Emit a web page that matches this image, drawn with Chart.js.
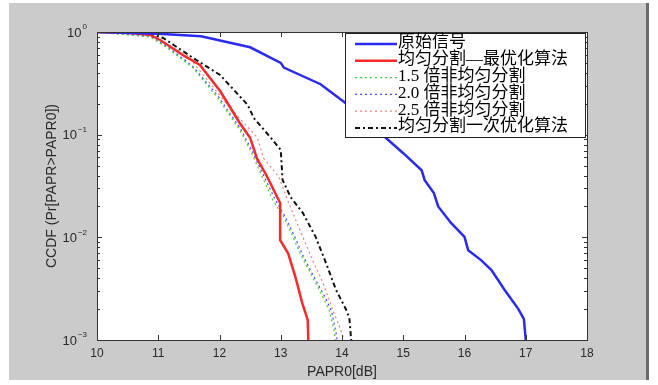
<!DOCTYPE html>
<html>
<head>
<meta charset="utf-8">
<script src="https://cdn.jsdelivr.net/npm/chart.js@4/dist/chart.umd.min.js"></script>
<style>
  html, body { margin: 0; padding: 0; background: #fff; }
  #frame {
    position: absolute; left: 9px; top: 3px; width: 637px; height: 377px;
    background: #cbcbcb; border-right: 3px solid #6a6a6a;
  }
  #plot { position: absolute; left: 0; top: 0; }
</style>
</head>
<body>
<div id="frame"></div>
<canvas id="plot" width="658" height="385"></canvas>
<script>
// tick values
const xTicks = [10, 11, 12, 13, 14, 15, 16, 17, 18];
const yDecades = [0.001, 0.01, 0.1, 1];

// series labels (legend order)
const labels = ['原始信号', '均匀分割—最优化算法', '1.5 倍非均匀分割', '2.0 倍非均匀分割', '2.5 倍非均匀分割', '均匀分割一次优化算法'];

// original signal
const origX = [10, 11, 11.7, 12.5, 13.0, 13.05, 13.65, 14.1, 14.7, 15.0, 15.3, 15.35, 15.5, 15.57, 15.78, 16.0, 16.06, 16.27, 16.44, 16.65, 16.88, 16.97, 17.0];
const origY = [1, 0.96, 0.91, 0.71, 0.50, 0.45, 0.31, 0.195, 0.095, 0.066, 0.045, 0.036, 0.027, 0.020, 0.0138, 0.0101, 0.0075, 0.0060, 0.0048, 0.0031, 0.0020, 0.0016, 0.001];

// uniform split, optimal
const optX = [10, 10.54, 10.87, 11.03, 11.4, 11.68, 12.01, 12.33, 12.5, 12.61, 12.78, 12.99, 12.99, 13.12, 13.24, 13.35, 13.44, 13.45];
const optY = [1, 0.98, 0.935, 0.836, 0.597, 0.477, 0.266, 0.130, 0.093, 0.059, 0.0387, 0.0216, 0.0094, 0.0070, 0.0041, 0.0023, 0.00157, 0.001];

// 1.5x non-uniform
const nu15X = [10, 10.87, 11.15, 11.57, 11.97, 12.34, 12.51, 12.7, 12.87, 13.05, 13.2, 13.33, 13.46, 13.57, 13.69, 13.79, 13.87, 13.89];
const nu15Y = [1, 0.894, 0.699, 0.446, 0.228, 0.109, 0.069, 0.0387, 0.0231, 0.0158, 0.0101, 0.0067, 0.0048, 0.0036, 0.0026, 0.00196, 0.00125, 0.001];

// 2.0x non-uniform
const nu20X = [10, 10.87, 11.15, 11.57, 11.97, 12.34, 12.52, 12.72, 12.9, 13.08, 13.24, 13.37, 13.5, 13.62, 13.74, 13.83, 13.9, 13.92];
const nu20Y = [1, 0.91, 0.72, 0.46, 0.24, 0.115, 0.072, 0.040, 0.024, 0.0155, 0.0098, 0.0065, 0.0046, 0.0034, 0.0025, 0.0019, 0.0012, 0.001];

// 2.5x non-uniform
const nu25X = [10, 10.87, 11.47, 12.13, 12.62, 12.72, 12.97, 13.13, 13.36, 13.52, 13.69, 13.85, 13.98, 14.03];
const nu25Y = [1, 0.935, 0.597, 0.195, 0.093, 0.059, 0.0387, 0.0216, 0.0101, 0.0060, 0.0036, 0.00196, 0.00125, 0.001];

// uniform split, single optimisation
const onceX = [10, 10.87, 11.08, 11.57, 12.01, 12.46, 12.56, 12.84, 13.0, 13.03, 13.16, 13.36, 13.57, 13.74, 13.9, 14.07, 14.12, 14.15];
const onceY = [1, 0.957, 0.875, 0.558, 0.381, 0.195, 0.145, 0.093, 0.071, 0.0362, 0.0247, 0.0173, 0.0101, 0.0056, 0.0031, 0.00196, 0.00164, 0.001];

function pts(xs, ys) {
  return xs.map((x, i) => ({ x: x, y: ys[i] }));
}

const axisFont = "'Liberation Sans', Arial, sans-serif";

// white plot area, box with inward ticks, y labels, legend
const boxPlugin = {
  id: 'boxPlugin',
  beforeDatasetsDraw(chart) {
    const { ctx, chartArea: a } = chart;
    ctx.save();
    ctx.fillStyle = '#fff';
    ctx.fillRect(a.left, a.top, a.right - a.left, a.bottom - a.top);
    ctx.restore();
  },
  afterDatasetsDraw(chart) {
    const { ctx, chartArea: a } = chart;
    const xs = chart.scales.x, ys = chart.scales.y;
    ctx.save();
    ctx.strokeStyle = '#333';
    ctx.lineWidth = 1;
    ctx.beginPath();
    xTicks.forEach(v => {
      const px = Math.round(xs.getPixelForValue(v)) + 0.5;
      ctx.moveTo(px, a.bottom); ctx.lineTo(px, a.bottom - 5);
      ctx.moveTo(px, a.top); ctx.lineTo(px, a.top + 5);
    });
    yDecades.forEach((d, i) => {
      const py = Math.round(ys.getPixelForValue(d)) + 0.5;
      ctx.moveTo(a.left, py); ctx.lineTo(a.left + 5, py);
      ctx.moveTo(a.right, py); ctx.lineTo(a.right - 5, py);
      if (i < yDecades.length - 1) {
        for (let m = 2; m < 10; m++) {
          const my = Math.round(ys.getPixelForValue(d * m)) + 0.5;
          ctx.moveTo(a.left, my); ctx.lineTo(a.left + 3, my);
          ctx.moveTo(a.right, my); ctx.lineTo(a.right - 3, my);
        }
      }
    });
    ctx.stroke();
    ctx.strokeRect(Math.round(a.left) + 0.5, Math.round(a.top) + 0.5, Math.round(a.right - a.left), Math.round(a.bottom - a.top));

    // y tick labels as 10 with superscript exponent
    ctx.fillStyle = '#2a2a2a';
    ctx.textBaseline = 'middle';
    yDecades.forEach(d => {
      const py = ys.getPixelForValue(d);
      const exp = String(Math.round(Math.log10(d))).replace('-', '\u2212');
      ctx.font = '8px ' + axisFont;
      const ew = ctx.measureText(exp).width;
      ctx.textAlign = 'left';
      ctx.fillText(exp, a.left - 11 - ew + 1, py - 5);
      ctx.font = '13px ' + axisFont;
      ctx.textAlign = 'right';
      ctx.fillText('10', a.left - 11 - ew, py + 1);
    });

    // legend box in the upper right corner
    const lx = 345, ly = a.top + 1, lw = a.right - 2 - lx, lh = 104;
    ctx.fillStyle = '#fff';
    ctx.fillRect(lx, ly, lw, lh);
    ctx.strokeStyle = '#222';
    ctx.lineWidth = 1;
    ctx.strokeRect(lx + 0.5, ly + 0.5, lw, lh);
    ctx.font = "17px 'Liberation Serif', 'Noto Sans CJK SC', serif";
    ctx.textAlign = 'left';
    ctx.textBaseline = 'middle';
    chart.data.datasets.forEach((ds, i) => {
      const cy = ly + 10 + i * 16.8;
      ctx.strokeStyle = ds.borderColor;
      ctx.lineWidth = ds.borderWidth;
      ctx.setLineDash(ds.borderDash || []);
      ctx.beginPath();
      ctx.moveTo(lx + 10, cy + 1);
      ctx.lineTo(lx + 52, cy + 1);
      ctx.stroke();
      ctx.setLineDash([]);
      ctx.fillStyle = '#000';
      ctx.fillText(ds.label, lx + 53, cy);
    });
    ctx.restore();
  }
};

const ctx = document.getElementById('plot').getContext('2d');
new Chart(ctx, {
  type: 'line',
  data: {
    datasets: [
      { label: labels[0], data: pts(origX, origY), borderColor: '#2b2bf0', borderWidth: 2.5 },
      { label: labels[1], data: pts(optX, optY), borderColor: '#f52a2a', borderWidth: 2.5 },
      { label: labels[2], data: pts(nu15X, nu15Y), borderColor: '#3ad43a', borderWidth: 1.2, borderDash: [2, 3] },
      { label: labels[3], data: pts(nu20X, nu20Y), borderColor: '#4a4aff', borderWidth: 1.2, borderDash: [2, 3] },
      { label: labels[4], data: pts(nu25X, nu25Y), borderColor: '#f08080', borderWidth: 1.2, borderDash: [2, 3] },
      { label: labels[5], data: pts(onceX, onceY), borderColor: '#111', borderWidth: 2, borderDash: [5, 3, 2, 3] }
    ]
  },
  options: {
    responsive: false,
    animation: false,
    events: [],
    elements: { point: { radius: 0 }, line: { tension: 0, fill: false } },
    layout: { padding: { left: 40, top: 32, right: 71, bottom: 0 } },
    plugins: { legend: { display: false }, tooltip: { enabled: false } },
    scales: {
      x: {
        type: 'linear', min: 10, max: 18,
        afterFit: s => { s.height = 45; },
        afterBuildTicks: s => { s.ticks = xTicks.map(v => ({ value: v })); },
        grid: { display: false, drawTicks: false },
        border: { display: false },
        ticks: { color: '#2a2a2a', font: { family: axisFont, size: 12 }, padding: 6 },
        title: { display: true, text: 'PAPR0[dB]', color: '#2a2a2a', font: { family: axisFont, size: 14 }, padding: { top: 2 } }
      },
      y: {
        type: 'logarithmic', min: 0.001, max: 1,
        afterFit: s => { s.width = 57; },
        grid: { display: false, drawTicks: false },
        border: { display: false },
        ticks: { display: false },
        title: { display: true, text: 'CCDF (Pr[PAPR>PAPR0])', color: '#2a2a2a', font: { family: axisFont, size: 14 }, padding: { bottom: 0 } }
      }
    }
  },
  plugins: [boxPlugin]
});
</script>
</body>
</html>
